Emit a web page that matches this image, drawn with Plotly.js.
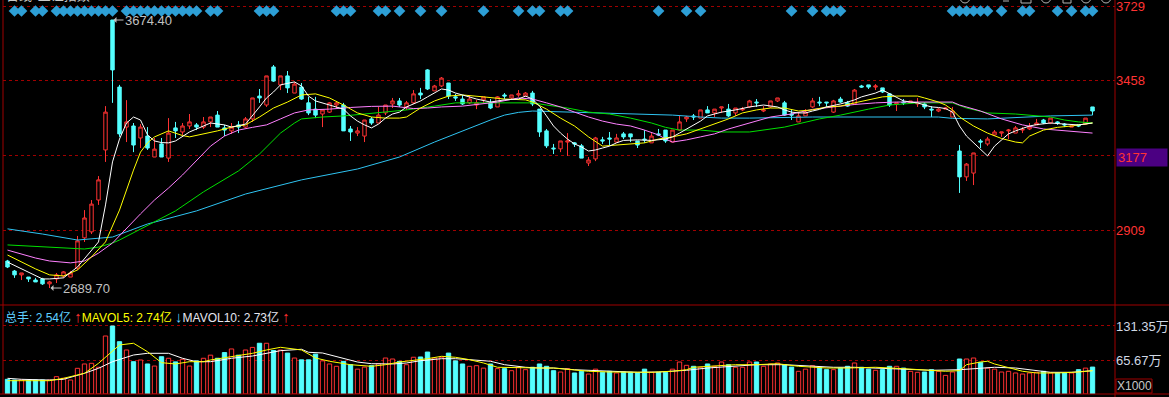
<!DOCTYPE html>
<html><head><meta charset="utf-8">
<script src="https://cdn.plot.ly/plotly-3.0.1.min.js"></script>
<style>html,body{margin:0;padding:0;background:#000;overflow:hidden}#c{width:1169px;height:397px}</style>
</head><body><div id="c"></div>
<script>
// ---- price candles (index 0..155) ----
const openP = [2789,2752,2738,2730,2719,2723,2705,2723,2734,2730,2763,2874,2896,3013,3197,3674.4,3428,3281,3285,3241,3248,3171,3219,3167,3278,3263,3285,3289,3281,3300,3325,3278,3267,3289,3281,3311,3395,3362,3502,3436,3469,3406,3428,3370,3347,3329,3336,3362,3362,3274,3259,3248,3311,3296,3333,3366,3377,3355,3370,3406,3491,3414,3432,3443,3392,3384,3370,3362,3381,3370,3355,3399,3388,3399,3395,3406,3347,3267,3204,3201,3226,3223,3212,3149,3164,3234,3241,3226,3256,3256,3230,3237,3223,3256,3270,3226,3270,3311,3322,3314,3344,3333,3351,3347,3333,3344,3355,3373,3340,3355,3377,3370,3329,3300,3322,3355,3373,3373,3336,3384,3370,3366,3432,3436,3428,3425,3403,3366,3373,3370,3366,3366,3347,3340,3347,3318,3193,3098,3112,3230,3219,3252,3259,3267,3259,3270,3274,3289,3307,3296,3300,3292,3281,3289,3292,3355];
const highP = [2793,2756,2745,2730,2727,2727,2716,2745,2752,2752,2881,2976,3013,3101,3358,3674.4,3436,3380,3296,3292,3281,3241,3241,3314,3300,3296,3329,3296,3318,3318,3340,3289,3296,3303,3318,3388,3421,3469,3509,3469,3487,3447,3443,3392,3392,3344,3373,3377,3370,3285,3281,3307,3318,3355,3362,3388,3388,3377,3417,3425,3494,3436,3465,3443,3403,3399,3395,3381,3392,3384,3395,3406,3399,3417,3410,3414,3347,3274,3219,3230,3259,3226,3219,3171,3245,3245,3263,3256,3263,3256,3230,3270,3259,3274,3270,3270,3322,3322,3329,3344,3358,3347,3355,3366,3351,3355,3381,3384,3358,3377,3388,3377,3347,3333,3347,3388,3392,3373,3381,3392,3377,3421,3436,3436,3439,3425,3403,3370,3384,3377,3388,3373,3358,3351,3355,3355,3215,3149,3186,3237,3245,3270,3263,3274,3285,3281,3296,3311,3311,3314,3303,3296,3285,3289,3314,3355];
const lowP = [2763,2727,2719,2712,2712,2701,2689.7,2708,2727,2730,2756,2859,2888,2995,3153,3370,3245,3226,3189,3204,3197,3171,3171,3153,3241,3252,3274,3270,3274,3281,3281,3248,3256,3259,3278,3300,3370,3355,3447,3417,3406,3406,3381,3325,3314,3281,3333,3351,3267,3230,3248,3226,3289,3296,3325,3351,3355,3344,3366,3384,3417,3414,3428,3384,3377,3362,3366,3347,3370,3347,3355,3384,3381,3392,3392,3358,3245,3204,3182,3189,3175,3208,3167,3138,3156,3219,3215,3223,3237,3226,3204,3223,3223,3248,3223,3226,3267,3300,3307,3314,3333,3318,3333,3318,3322,3340,3351,3355,3336,3351,3373,3322,3307,3300,3322,3351,3358,3355,3333,3370,3355,3362,3425,3421,3417,3406,3355,3340,3362,3370,3355,3347,3318,3336,3347,3318,3039,3083,3068,3204,3212,3248,3245,3237,3259,3259,3270,3289,3292,3292,3289,3281,3281,3281,3292,3325];
const closeP = [2767,2738,2745,2723,2712,2705,2712,2738,2749,2745,2863,2947,2998,3087,3336,3491,3256,3300,3215,3281,3204,3200,3171,3259,3267,3285,3300,3281,3300,3318,3281,3270,3281,3281,3311,3388,3388,3469,3450,3469,3425,3439,3384,3333,3325,3344,3370,3370,3267,3263,3267,3307,3296,3325,3362,3377,3362,3370,3403,3399,3421,3432,3461,3395,3388,3366,3384,3370,3392,3351,3392,3395,3399,3403,3406,3366,3263,3212,3201,3230,3230,3219,3167,3160,3241,3230,3237,3241,3245,3245,3215,3234,3248,3252,3230,3270,3300,3318,3318,3344,3333,3347,3355,3322,3351,3347,3377,3370,3344,3377,3388,3325,3325,3322,3336,3377,3370,3370,3377,3373,3358,3417,3428,3428,3432,3410,3362,3370,3370,3377,3370,3355,3344,3347,3351,3340,3098,3145,3186,3226,3237,3263,3263,3270,3278,3272,3281,3296,3296,3314,3296,3289,3285,3285,3314,3340];
// ---- volume (万) ----
const volume = [28.4,27,27,25.8,27,27,27,33.5,30.3,27,49.6,58,59.3,51.6,112,131.35,101,85,62.4,65.7,58,54,72,69,62,67,54,64,69,75,69,80,87,75,85,90,98,98,84,85,79,69.5,66,66,77,64,58,53.5,63,56.6,48,52,54.7,58.6,69.5,67.6,63,56.6,71,71.5,81,69.5,71,79,64,58,53.5,54.7,50,58,49,49,45,51.6,47,51.6,58,53.5,45,42.5,49,40.6,43.8,38.6,48,41.9,43.8,40.6,42.5,41.9,40.6,48,41.9,41.9,41.9,48,61.8,55.4,53.5,51.6,58,53.5,61.8,56.6,51.6,51.6,61.8,61.8,53.5,58,59.9,56.6,52,43.8,48,54.7,51.6,47,47,50,53.5,59.9,51.6,48,45.8,47,53.5,53.5,50,43.8,41.9,42.5,47,43.8,36,42.5,67.6,67.6,69.5,61.2,50,48,42.5,43.8,40.6,38.6,40.6,41.9,43.8,40.6,40.6,40.6,40.6,47,50,52];
// ---- moving averages ----
const ma5Idx = [0,3,5,6,8,10,12,13,14,15,16,17,18,19,20,21,22,23,24,25,26,27,28,29,31,32,34,35,36,37,38,39,41,42,43,44,46,47,48,49,50,51,52,53,54,55,56,57,58,59,60,61,62,63,64,65,66,67,69,71,73,74,75,76,77,78,79,80,81,82,83,84,85,86,87,88,90,92,94,95,96,97,98,99,100,101,102,104,106,108,110,111,112,113,114,115,116,117,118,119,120,121,122,123,124,125,126,127,128,129,130,131,132,133,134,135,136,137,138,139,140,141,142,143,144,145,146,147,148,149,151,153,155];
const ma5Val = [2785,2749,2723,2723,2727,2767,2826,2859,2995,3153,3237,3296,3318,3307,3252,3230,3224,3223,3230,3245,3263,3274,3285,3296,3289,3281,3292,3322,3355,3388,3410,3436,3447,3432,3395,3377,3362,3355,3347,3322,3303,3289,3278,3292,3314,3329,3336,3355,3366,3377,3392,3406,3421,3417,3406,3399,3392,3384,3373,3381,3384,3395,3384,3358,3322,3285,3259,3237,3219,3208,3193,3197,3204,3211,3223,3232,3234,3232,3237,3245,3259,3274,3289,3303,3322,3329,3336,3344,3355,3362,3355,3344,3336,3333,3333,3340,3346,3355,3360,3366,3373,3381,3392,3399,3406,3417,3403,3388,3377,3373,3370,3362,3355,3353,3349,3336,3285,3248,3223,3197,3175,3211,3234,3256,3267,3276,3285,3290,3292,3296,3292,3289,3296];
const ma10Idx = [0,4,6,8,10,12,14,16,18,19,20,21,23,25,26,28,30,32,34,36,38,40,42,44,46,48,50,52,54,56,57,59,61,63,65,68,71,74,75,77,79,81,83,85,87,89,91,93,95,97,99,101,103,105,107,109,111,113,115,117,119,121,123,125,127,130,131,133,134,135,136,138,140,142,144,145,146,148,150,152,155];
const ma10Val = [2811,2760,2738,2734,2756,2804,2859,2976,3123,3189,3223,3245,3267,3250,3245,3256,3267,3281,3289,3318,3351,3373,3399,3403,3388,3362,3333,3318,3314,3314,3318,3351,3377,3395,3399,3392,3384,3381,3373,3347,3314,3285,3245,3211,3215,3219,3223,3237,3245,3256,3274,3292,3311,3333,3344,3351,3351,3340,3344,3355,3358,3370,3381,3392,3395,3395,3388,3373,3362,3344,3318,3285,3259,3239,3226,3223,3248,3270,3280,3285,3296];
const ma20Idx = [0,4,6,9,11,13,15,17,19,21,23,25,27,29,31,33,35,37,39,41,43,46,49,52,55,58,60,62,65,68,70,73,75,77,79,81,83,85,87,89,91,93,94,95,97,99,101,103,106,109,112,115,118,121,124,127,131,135,136,139,142,145,148,150,152,155];
const ma20Val = [2829,2800,2789,2782,2789,2818,2855,2910,2962,3013,3057,3105,3160,3211,3248,3270,3280,3289,3311,3333,3344,3347,3353,3357,3358,3349,3351,3355,3358,3366,3373,3388,3384,3370,3355,3336,3318,3303,3292,3285,3270,3252,3237,3226,3234,3245,3256,3274,3296,3318,3329,3346,3355,3364,3370,3373,3373,3373,3362,3340,3311,3289,3274,3270,3267,3259];
const ma30Idx = [0,5,8,11,13,15,16,20,24,28,33,36,39,41,42,45,48,51,54,57,61,64,68,72,75,77,80,83,86,89,92,94,96,99,102,106,111,116,119,123,126,130,135,137,140,144,147,149,151,153,155];
const ma30Val = [2848,2840,2837,2833,2840,2855,2866,2918,2973,3043,3120,3182,3259,3296,3311,3318,3322,3329,3336,3344,3358,3370,3370,3370,3370,3362,3351,3336,3329,3314,3296,3280,3270,3270,3263,3263,3281,3311,3325,3347,3362,3370,3370,3351,3333,3329,3322,3318,3307,3300,3296];
const ma60Idx = [0,5,10,15,20,27,34,42,50,56,61,66,69,71,73,75,80,85,90,95,99,102,106,115,133,135,140,145,149,155];
const ma60Val = [2907,2888,2866,2877,2925,2973,3035,3087,3127,3171,3226,3278,3307,3325,3335,3340,3336,3333,3329,3325,3318,3314,3314,3318,3318,3313,3311,3318,3322,3325];
const mv5Idx = [0,6,8,11,13,15,16,18,20,22,24,26,28,29,32,35,37,39,42,44,46,49,52,54,56,58,60,62,64,66,68,70,73,76,78,81,83,86,89,92,95,97,98,100,104,107,110,113,117,120,124,128,131,134,136,137,139,140,141,143,145,147,150,153,155];
const mv5Val = [25.7,25.7,30.3,40,59.3,81.7,94.7,98,81.7,60.5,58,62.4,62.4,65.7,72,78.6,85,90.2,85,69.6,63.2,56.6,53.5,56.6,61.8,64.3,68.2,72.8,70.9,66.3,59.9,51.6,50.2,50.2,50.2,46.9,43.9,42.5,41.9,41.9,43.9,46.9,51.6,53.3,56.6,56.6,58.5,53.5,50.2,50.2,51.6,48.9,46.9,43.9,45,56.6,61.8,63.2,58,50.2,43.9,40.6,40.6,42.5,45];
const mv10Idx = [0,2,6,8,11,13,15,18,20,23,25,27,29,32,35,37,39,42,43,45,48,50,52,55,57,59,62,64,66,69,71,74,76,78,81,83,86,88,90,93,95,97,100,103,107,111,114,118,121,124,128,132,136,139,141,144,147,149,152,155];
const mv10Val = [30.3,28.4,27,28.4,40,49.6,62.4,75.3,78.6,78.6,69,62.4,62.4,69,73.4,78.6,83.7,86.4,80.6,79.2,68.2,61.8,58.5,58,59.9,64.3,68.2,68.2,66.3,63.2,56.6,51.6,50.2,50.2,46.9,45.8,43.9,42.5,41.9,42.5,43.9,45.8,50.2,53.5,56.6,56.6,54.7,51.6,51.6,50.2,48.9,45.8,46.9,50.2,51.6,50.2,45,41.9,41.9,45];
// ---- signal diamonds (candle indices) ----
const signalIdx = [1,2,4,5,7,8,9,10,11,12,13,14,15,17,18,19,20,21,22,23,24,25,26,27,29,30,36,37,38,47,48,49,53,54,56,59,62,68,73,75,76,79,80,93,97,99,112,115,117,118,119,135,136,137,138,139,140,142,145,146,150,152,154,155];
// ---- axis labels (grid positions as drawn in the reference, with its labels) ----
const priceTickVals = [3725.8, 3452.1, 3176.5, 2901.0];
const priceTickText = ['3729', '3458', '3177', '2909'];
const markedPrice = '3177';          // label shown in the highlighted box
const volTicks = [65.67, 131.35];
const volTickText = ['65.67万', '131.35万'];
const highLabel = '3674.40', lowLabel = '2689.70';
const volLegend = {total:'2.54亿', mavol5:'2.74亿', mavol10:'2.73亿'};

const RED = '#ff3232', CYAN = '#54ffff', GRID = '#a00000';
const idx = openP.map((_, i) => i);
const up = idx.map(i => closeP[i] >= openP[i]);
const hiI = highP.indexOf(Math.max(...highP));
const loI = lowP.indexOf(Math.min(...lowP));

const FONT = 'Liberation Sans, Arial, Noto Sans CJK SC, sans-serif';
function line(x, y, color, ax) {
  return {type:'scatter', mode:'lines', x:x, y:y, xaxis:'x', yaxis:ax||'y',
    line:{color:color, width:1}, hoverinfo:'skip'};
}
const traces = [
  {type:'candlestick', x:idx, open:openP, high:highP, low:lowP, close:closeP, xaxis:'x', yaxis:'y',
   increasing:{line:{color:RED, width:1}, fillcolor:'#000000'},
   decreasing:{line:{color:CYAN, width:1}, fillcolor:CYAN},
   whiskerwidth:0, hoverinfo:'skip'},
  line(ma60Idx, ma60Val, '#2fc4f2'),
  line(ma30Idx, ma30Val, '#00e000'),
  line(ma20Idx, ma20Val, '#ff80ff'),
  line(ma10Idx, ma10Val, '#ffff00'),
  line(ma5Idx, ma5Val, '#ffffff'),
  {type:'bar', x:idx, y:volume, xaxis:'x', yaxis:'y2', width:0.62,
   marker:{color:up.map(u => u ? '#000000' : CYAN), line:{color:up.map(u => u ? RED : CYAN), width:1}},
   hoverinfo:'skip'},
  line(mv10Idx, mv10Val, '#ffffff', 'y2'),
  line(mv5Idx, mv5Val, '#ffff00', 'y2'),
  {type:'scatter', mode:'markers', x:signalIdx, y:signalIdx.map(() => 0.964), xaxis:'x', yaxis:'y3',
   marker:{symbol:'diamond', size:9, color:'#2d9fd6'}, hoverinfo:'skip'}
];

const H = 394, W = 1112, L = 3;
const py = px => (H - px) / H;       // pixel row -> paper y
const pxX = px => (px - L) / W;      // pixel column -> paper x
const splitY = py(305);

const iconShapes = [];
[[960,970,'circle'],[1021,1031,'rect'],[1041,1051,'circle'],[1063,1071,'rect'],[1081,1091,'circle'],[1101,1111,'circle']]
  .forEach(s => iconShapes.push({type:s[2], xref:'paper', yref:'paper', x0:pxX(s[0]), x1:pxX(s[1]),
     y0:py(3), y1:py(-8), line:{color:'#b4b4b4', width:1}, fillcolor:'rgba(0,0,0,0)'}));
iconShapes.push({type:'line', xref:'paper', yref:'paper', x0:pxX(1003), x1:pxX(1009), y0:py(1), y1:py(1),
     line:{color:'#b4b4b4', width:1}});

const arrow = (ch, color) => '<span style="color:' + color + ';font-size:15px"><b>' + ch + '</b></span>';
const layout = {
  width:1169, height:397, paper_bgcolor:'#000', plot_bgcolor:'#000',
  margin:{l:3, r:54, t:0, b:3}, showlegend:false, hovermode:false,
  font:{family:FONT, size:13, color:'#c8c8c8'},
  xaxis:{range:[-0.643, 158.21], showgrid:false, zeroline:false, showticklabels:false, ticks:'',
         rangeslider:{visible:false}, fixedrange:true},
  yaxis:{domain:[splitY, 1], range:[2627.3, 3747.9], side:'right', tickvals:priceTickVals,
         ticktext:priceTickText.map(t => t === markedPrice ? '' : t), ticklabeloverflow:'allow',
         tickfont:{color:'#ff3333', size:13, family:FONT},
         showgrid:true, gridcolor:GRID, griddash:'dot', gridwidth:1, zeroline:false, ticks:'', fixedrange:true},
  yaxis2:{domain:[0, splitY], range:[0, 171.9], side:'right', tickvals:volTicks, ticktext:volTickText,
          tickfont:{color:'#d0d8e4', size:13, family:FONT}, ticklabeloverflow:'allow',
          showgrid:true, gridcolor:GRID, griddash:'dot', gridwidth:1, zeroline:false, ticks:'', fixedrange:true},
  yaxis3:{overlaying:'y', range:[0,1], visible:false, fixedrange:true},
  shapes:[
    {type:'line', xref:'paper', yref:'paper', x0:0, x1:0, y0:0, y1:1, line:{color:GRID, width:1}},
    {type:'line', xref:'paper', yref:'paper', x0:1, x1:1, y0:py(397), y1:1, line:{color:GRID, width:1}},
    {type:'line', xref:'paper', yref:'paper', x0:pxX(0), x1:pxX(1169), y0:splitY, y1:splitY, line:{color:GRID, width:1}},
    {type:'line', xref:'paper', yref:'paper', x0:pxX(0), x1:pxX(1169), y0:0, y1:0, line:{color:GRID, width:1}},
    {type:'rect', xref:'paper', yref:'paper', x0:pxX(1116), x1:pxX(1152), y0:py(393), y1:py(379),
     line:{color:'#a00000', width:1}, fillcolor:'rgba(0,0,0,0)'}
  ].concat(iconShapes),
  annotations:[
    {x:hiI, y:highP[hiI], xref:'x', yref:'y', text:highLabel, showarrow:true, ax:36, ay:0,
     arrowhead:1, arrowsize:1, arrowwidth:1, arrowcolor:'#c0c0c0', standoff:1,
     font:{size:13, color:'#c0c0c0', family:FONT}},
    {x:loI, y:lowP[loI], xref:'x', yref:'y', text:lowLabel, showarrow:true, ax:37, ay:0,
     arrowhead:1, arrowsize:1, arrowwidth:1, arrowcolor:'#c0c0c0', standoff:1,
     font:{size:13, color:'#c0c0c0', family:FONT}},
    {xref:'paper', yref:'paper', x:pxX(3), y:py(316), xanchor:'left', yanchor:'middle', showarrow:false,
     font:{size:12, family:FONT},
     text:'<span style="color:#5fd0ff">总手: '+volLegend.total+' </span>'+arrow('↑','#ff3030')+
          '<span style="color:#ffff00">MAVOL5: '+volLegend.mavol5+' </span>'+arrow('↓','#5fd0ff')+
          '<span style="color:#e6e6f0">MAVOL10: '+volLegend.mavol10+' </span>'+arrow('↑','#ff3030')},
    {xref:'paper', yref:'paper', x:pxX(1134), y:py(386), xanchor:'center', yanchor:'middle', text:'X1000', showarrow:false,
     font:{size:12, color:'#c8c8c8', family:FONT}},
    {xref:'paper', yref:'paper', x:pxX(1116), y:py(157), xanchor:'left', yanchor:'middle', showarrow:false,
     text:markedPrice, width:48, height:15, align:'left', bgcolor:'#4b0082', borderpad:1,
     font:{size:13, color:'#ff3333', family:FONT}},
    {xref:'paper', yref:'paper', x:pxX(4), y:1, xanchor:'left', yanchor:'bottom', yshift:-6, showarrow:false,
     text:'日线  上证指数', font:{size:13, color:'#c8c8c8', family:'Noto Sans CJK SC, sans-serif'}}
  ]
};
Plotly.newPlot('c', traces, layout, {staticPlot:true, displayModeBar:false});
</script></body></html>
